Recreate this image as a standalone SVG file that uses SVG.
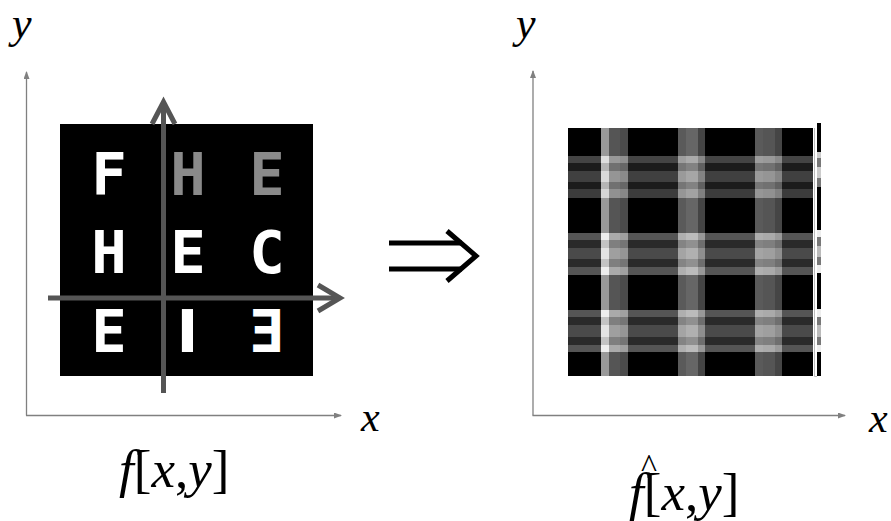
<svg xmlns="http://www.w3.org/2000/svg" width="891" height="521" viewBox="0 0 891 521">
<defs>
<style>
.ax{stroke:#808080;stroke-width:1.3;fill:none}
.lbl{font-family:"Liberation Serif","Times New Roman",serif;font-style:italic;fill:#000}
.up{font-style:normal}
.gax{stroke:#555;stroke-width:5;fill:none;stroke-linecap:butt}
.let{font-family:"DejaVu Sans Mono",monospace;font-weight:bold;font-size:59px;text-anchor:middle}
.w{fill:#fff}
.g{fill:#8a8a8a}
.hb{mix-blend-mode:plus-lighter}
</style>
<marker id="ah" viewBox="0 0 8 6" refX="7" refY="3" markerWidth="8" markerHeight="6" markerUnits="userSpaceOnUse" orient="auto">
<path d="M0,0 L8,3 L0,6 Z" fill="#808080"/>
</marker>
</defs>
<rect width="891" height="521" fill="#fff"/>

<g id="connectors">
<line class="ax" x1="26.5" y1="415.5" x2="26.5" y2="72" marker-end="url(#ah)"/>
<line class="ax" x1="26" y1="415.5" x2="341" y2="415.5" marker-end="url(#ah)"/>
<line class="ax" x1="533" y1="415.5" x2="533" y2="71" marker-end="url(#ah)"/>
<line class="ax" x1="532.5" y1="415.5" x2="845" y2="415.5" marker-end="url(#ah)"/>
<g id="implies" stroke="#000" stroke-width="5" fill="none">
<line x1="389" y1="243" x2="462" y2="243"/>
<line x1="389" y1="269" x2="462" y2="269"/>
<polyline points="447,231 476,256 447,281"/>
</g>
</g>

<g id="left-image">
<rect x="60" y="124" width="253" height="252" fill="#000"/>
<text class="let w" x="109" y="195">F</text>
<text class="let g" x="188" y="195">H</text>
<text class="let g" x="267" y="195">E</text>
<text class="let w" x="109" y="273">H</text>
<text class="let w" x="188" y="273">E</text>
<text class="let w" x="267" y="273">C</text>
<text class="let w" x="109" y="352">E</text>
<text class="w" x="187.5" y="352" font-family="DejaVu Sans" font-weight="bold" font-size="59" text-anchor="middle">I</text>
<text class="let w" x="267" y="352" transform="translate(534,0) scale(-1,1)">E</text>
<g id="image-axes">
<line class="gax" x1="163.5" y1="393" x2="163.5" y2="104"/>
<polyline class="gax" points="152,124 163.5,102 175,124"/>
<line class="gax" x1="48" y1="298" x2="337" y2="298"/>
<polyline class="gax" points="318,285 340,298 318,311"/>
</g>
</g>

<g id="right-image">
<g style="isolation:isolate">
<rect x="568" y="128" width="245" height="248" fill="#000"/>
<rect x="601" y="128" width="8" height="248" fill="#999"/>
<rect x="609" y="128" width="11" height="248" fill="#555"/>
<rect x="620" y="128" width="8" height="248" fill="#4b4b4b"/>
<rect x="678" y="128" width="8" height="248" fill="#5a5a5a"/>
<rect x="686" y="128" width="12" height="248" fill="#666"/>
<rect x="698" y="128" width="7" height="248" fill="#444"/>
<rect x="755" y="128" width="8" height="248" fill="#5a5a5a"/>
<rect x="763" y="128" width="12" height="248" fill="#555"/>
<rect x="775" y="128" width="7" height="248" fill="#454545"/>
<g class="hb">
<rect x="568" y="156" width="245" height="7" fill="#444"/>
<rect x="568" y="163" width="245" height="8" fill="#1c1c1c"/>
<rect x="568" y="171" width="245" height="11" fill="#404040"/>
<rect x="568" y="182" width="245" height="7" fill="#1c1c1c"/>
<rect x="568" y="189" width="245" height="9" fill="#3c3c3c"/>
<rect x="568" y="233" width="245" height="7" fill="#555"/>
<rect x="568" y="240" width="245" height="8" fill="#2a2a2a"/>
<rect x="568" y="248" width="245" height="11" fill="#4a4a4a"/>
<rect x="568" y="259" width="245" height="8" fill="#2a2a2a"/>
<rect x="568" y="267" width="245" height="8" fill="#555"/>
<rect x="568" y="310" width="245" height="7" fill="#555"/>
<rect x="568" y="317" width="245" height="8" fill="#2a2a2a"/>
<rect x="568" y="325" width="245" height="12" fill="#4a4a4a"/>
<rect x="568" y="337" width="245" height="8" fill="#2a2a2a"/>
<rect x="568" y="345" width="245" height="7" fill="#555"/>
</g>
</g>
<polyline points="814.5,128 814.5,376.5 817,376.5" fill="none" stroke="#bbb" stroke-width="1"/>
<g id="edge-strip">
<rect x="817" y="123" width="4" height="253" fill="#000"/>
<rect x="817" y="152" width="4" height="35" fill="#ccc"/>
<rect x="817" y="158" width="4" height="9" fill="#777"/>
<rect x="817" y="178" width="4" height="9" fill="#777"/>
<rect x="817" y="230" width="4" height="43" fill="#eee"/>
<rect x="817" y="237" width="4" height="9" fill="#777"/>
<rect x="817" y="246" width="4" height="11" fill="#bbb"/>
<rect x="817" y="257" width="4" height="8" fill="#777"/>
<rect x="817" y="309" width="4" height="43" fill="#eee"/>
<rect x="817" y="317" width="4" height="8" fill="#777"/>
<rect x="817" y="325" width="4" height="12" fill="#bbb"/>
<rect x="817" y="337" width="4" height="8" fill="#777"/>
</g>
</g>

<g id="labels">
<text class="lbl" x="12" y="38" font-size="44">y</text>
<text class="lbl" x="516" y="38" font-size="44">y</text>
<text class="lbl" x="361" y="431" font-size="42">x</text>
<text class="lbl" x="869" y="432" font-size="42">x</text>
<text class="lbl" x="119" y="487" font-size="53">f<tspan class="up">[</tspan>x<tspan class="up">,</tspan>y<tspan class="up">]</tspan></text>
<text class="lbl" x="629" y="510" font-size="53">f<tspan class="up">[</tspan>x<tspan class="up">,</tspan>y<tspan class="up">]</tspan></text>
<text x="641" y="477" font-family="Liberation Serif, serif" font-size="34" fill="#000">^</text>
</g>
</svg>
